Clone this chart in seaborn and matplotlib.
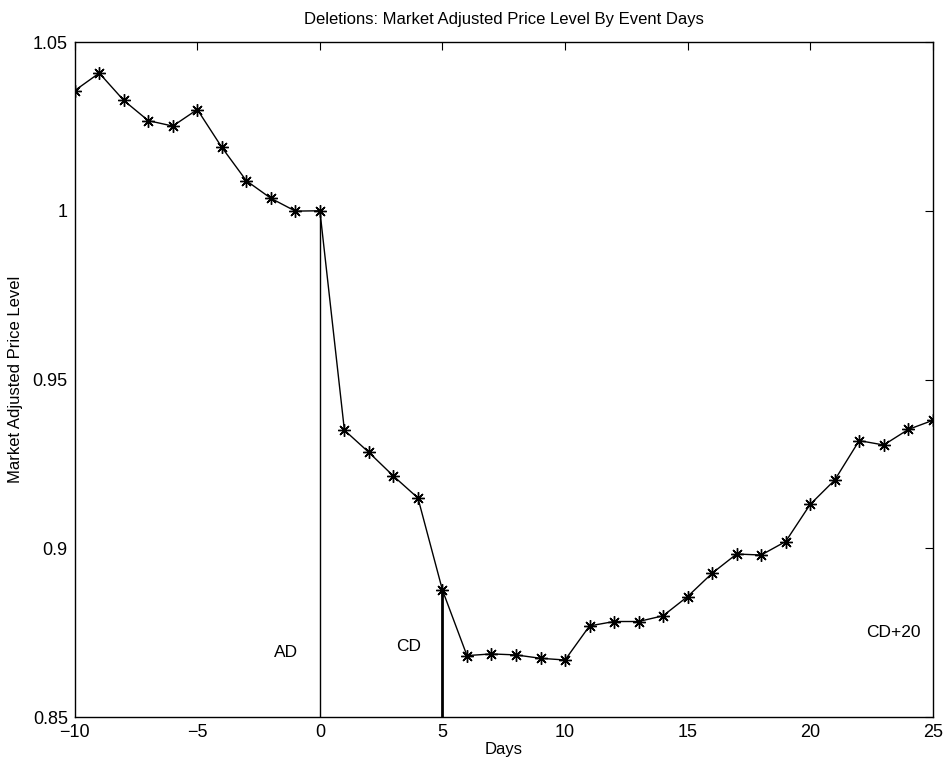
import matplotlib
matplotlib.use("Agg")
import matplotlib.pyplot as plt
import seaborn as sns
import pandas as pd
from matplotlib.ticker import FuncFormatter

days = list(range(-10, 26))
price_level = [1.0356, 1.0408, 1.0327, 1.0267, 1.0251, 1.0300, 1.0188, 1.0089, 1.0037, 0.9999,
               1.0000, 0.9350, 0.9284, 0.9214, 0.9149, 0.8876, 0.8682, 0.8687, 0.8684, 0.8674,
               0.8669, 0.8770, 0.8783, 0.8783, 0.8800, 0.8857, 0.8926, 0.8983, 0.8980, 0.9020,
               0.9130, 0.9202, 0.9319, 0.9306, 0.9352, 0.9379]

event_days = [0, 5]
event_labels = ["AD", "CD", "CD+20"]
label_x = [-1.4, 3.6, 23.4]
label_y = [0.869, 0.871, 0.875]

x_ticks = [-10, -5, 0, 5, 10, 15, 20, 25]
y_ticks = [0.85, 0.9, 0.95, 1.0, 1.05]

sns.set_theme(style="white")
plt.rcParams['font.family'] = ['Liberation Sans', 'DejaVu Sans']

df = pd.DataFrame({"Days": days, "Level": price_level})

fig = plt.figure(figsize=(9.46, 7.71), dpi=100)
ax = fig.add_axes([0.079, 0.070, 0.907, 0.8755])

sns.lineplot(data=df, x="Days", y="Level", ax=ax, color="black", linewidth=1.0,
             marker=(8, 2, 0), markersize=9, markeredgecolor="black",
             markerfacecolor="black", markeredgewidth=1.0)

level_map = dict(zip(days, price_level))
for i, d in enumerate(event_days):
    ax.vlines(d, 0.85, level_map[d], color="black", linewidth=1.0 if i == 0 else 2.0)

for t, lx, ly in zip(event_labels, label_x, label_y):
    ax.text(lx, ly, t, ha="center", va="center", fontsize=12.5, color="black")

ax.set_xlim(-10, 25)
ax.set_ylim(0.85, 1.05)
ax.set_xticks(x_ticks)
ax.set_yticks(y_ticks)
ax.yaxis.set_major_formatter(FuncFormatter(lambda v, p: f"{v:g}"))
ax.tick_params(direction="in", length=6, width=0.8, top=True, right=True,
               labelsize=13, colors="black", pad=5)
ax.tick_params(axis="x", pad=5)
for s in ax.spines.values():
    s.set_color("black")
    s.set_linewidth(1.0)

ax.set_xlabel("Days", fontsize=12, color="black", labelpad=1)
ax.set_ylabel("Market Adjusted Price Level", fontsize=12, color="black", labelpad=7)
ax.set_title("Deletions: Market Adjusted Price Level By Event Days", fontsize=12,
             color="black", pad=13)

fig.savefig("out.png", dpi=100, facecolor="white")
